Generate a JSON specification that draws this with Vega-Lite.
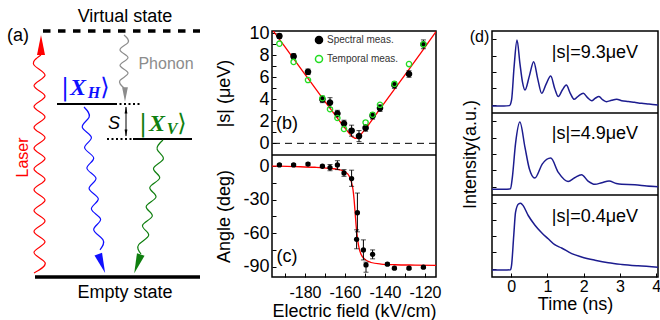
{
"$schema": "https://vega.github.io/schema/vega-lite/v6.json",
"padding": {"left": 0, "top": 8, "right": 0, "bottom": 0},
"background": "white",
"bounds": "flush",
"spacing": 56,
"config": {
  "font": "Liberation Sans",
  "view": {"stroke": "black", "strokeWidth": 1.5},
  "axis": {"domain": false, "grid": false, "tickColor": "black", "tickSize": -4, "tickWidth": 1, "labelPadding": 7, "labelFontSize": 18, "titleFontSize": 18, "titleFontWeight": "normal", "labelColor": "black", "titleColor": "black", "labelOverlap": false, "labelFlush": false},
  "axisY": {"minExtent": 30, "maxExtent": 30, "titlePadding": 9},
  "legend": {"labelFontSize": 10, "symbolSize": 50, "rowPadding": 5, "labelOffset": 3, "symbolStrokeWidth": 1.5, "labelColor": "#333333", "padding": 0}
},
"datasets": {
  "aVirtual": [{"x": 43, "x2": 200, "y": 246}],
  "aEmpty": [{"x": 35, "x2": 200, "y": 0}],
  "aLevels": [{"x": 57, "x2": 115, "y": 173}, {"x": 133, "x2": 192, "y": 138}],
  "aDots": [{"x": 115, "x2": 142, "y": 173}, {"x": 107, "x2": 133, "y": 138}],
  "aGap": [{"x": 126, "y": 141, "y2": 170}],
  "aGapHeads": [{"x": 126, "y": 167, "angle": 0}, {"x": 126, "y": 144, "angle": 180}],
  "aWaves": [
    {"w": "laser", "i": 0, "x": 34, "y": 4}, {"w": "laser", "i": 1, "x": 45, "y": 14.4}, {"w": "laser", "i": 2, "x": 34, "y": 24.8}, {"w": "laser", "i": 3, "x": 45, "y": 35.2}, {"w": "laser", "i": 4, "x": 34, "y": 45.6}, {"w": "laser", "i": 5, "x": 45, "y": 56}, {"w": "laser", "i": 6, "x": 34, "y": 66.4}, {"w": "laser", "i": 7, "x": 45, "y": 76.8}, {"w": "laser", "i": 8, "x": 34, "y": 87.2}, {"w": "laser", "i": 9, "x": 45, "y": 97.6}, {"w": "laser", "i": 10, "x": 34, "y": 108}, {"w": "laser", "i": 11, "x": 45, "y": 118.4}, {"w": "laser", "i": 12, "x": 34, "y": 128.8}, {"w": "laser", "i": 13, "x": 45, "y": 139.2}, {"w": "laser", "i": 14, "x": 34, "y": 149.6}, {"w": "laser", "i": 15, "x": 45, "y": 160}, {"w": "laser", "i": 16, "x": 34, "y": 170.4}, {"w": "laser", "i": 17, "x": 45, "y": 180.8}, {"w": "laser", "i": 18, "x": 34, "y": 191.2}, {"w": "laser", "i": 19, "x": 45, "y": 201.6}, {"w": "laser", "i": 20, "x": 34, "y": 212}, {"w": "laser", "i": 21, "x": 41, "y": 222},
    {"w": "XH", "i": 0, "x": 84, "y": 170}, {"w": "XH", "i": 1, "x": 89.1, "y": 159.8}, {"w": "XH", "i": 2, "x": 82.3, "y": 149.6}, {"w": "XH", "i": 3, "x": 91.4, "y": 139.4}, {"w": "XH", "i": 4, "x": 84.6, "y": 129.2}, {"w": "XH", "i": 5, "x": 93.7, "y": 119}, {"w": "XH", "i": 6, "x": 86.9, "y": 108.8}, {"w": "XH", "i": 7, "x": 96, "y": 98.6}, {"w": "XH", "i": 8, "x": 89.1, "y": 88.4}, {"w": "XH", "i": 9, "x": 98.3, "y": 78.2}, {"w": "XH", "i": 10, "x": 91.4, "y": 68}, {"w": "XH", "i": 11, "x": 100.6, "y": 57.8}, {"w": "XH", "i": 12, "x": 93.7, "y": 47.6}, {"w": "XH", "i": 13, "x": 102.9, "y": 37.4}, {"w": "XH", "i": 14, "x": 100, "y": 27.2},
    {"w": "XV", "i": 0, "x": 163, "y": 137}, {"w": "XV", "i": 1, "x": 157.2, "y": 127.5}, {"w": "XV", "i": 2, "x": 163.3, "y": 118}, {"w": "XV", "i": 3, "x": 153.5, "y": 108.5}, {"w": "XV", "i": 4, "x": 159.7, "y": 99}, {"w": "XV", "i": 5, "x": 149.8, "y": 89.5}, {"w": "XV", "i": 6, "x": 156, "y": 80}, {"w": "XV", "i": 7, "x": 146.2, "y": 70.5}, {"w": "XV", "i": 8, "x": 152.3, "y": 61}, {"w": "XV", "i": 9, "x": 142.5, "y": 51.5}, {"w": "XV", "i": 10, "x": 148.7, "y": 42}, {"w": "XV", "i": 11, "x": 138.8, "y": 32.5}, {"w": "XV", "i": 12, "x": 141, "y": 23},
    {"w": "phonon", "i": 0, "x": 124, "y": 242}, {"w": "phonon", "i": 1, "x": 128, "y": 234.4}, {"w": "phonon", "i": 2, "x": 120, "y": 226.9}, {"w": "phonon", "i": 3, "x": 128, "y": 219.3}, {"w": "phonon", "i": 4, "x": 120, "y": 211.7}, {"w": "phonon", "i": 5, "x": 128, "y": 204.1}, {"w": "phonon", "i": 6, "x": 120, "y": 196.6}, {"w": "phonon", "i": 7, "x": 124, "y": 189}
  ],
  "aHeads": [{"w": "laser", "x": 41, "y": 232, "angle": 0}, {"w": "XH", "x": 101.7, "y": 13.4, "angle": 160}, {"w": "XV", "x": 137.5, "y": 13.1, "angle": 199}],
  "aPhononHead": [{"w": "phonon", "x": 125, "y": 182.5, "angle": 180}],
  "aTexts": [{"t": "Virtual state", "x": 125, "y": 260}, {"t": "Empty state", "x": 125, "y": -15.5}, {"t": "(a)", "x": 18, "y": 241}],
  "aS": [{"t": "S", "x": 114, "y": 153}],
  "aPhononText": [{"t": "Phonon", "x": 166, "y": 213.5}],
  "aLaserText": [{"t": "Laser", "x": 23, "y": 119.5}],
  "aKetUpright": [{"w": "XH", "t": "|", "x": 65, "y": 189}, {"w": "XH", "t": "⟩", "x": 105, "y": 189}, {"w": "XV", "t": "|", "x": 143, "y": 153}, {"w": "XV", "t": "⟩", "x": 182, "y": 153}],
  "aKetX": [{"w": "XH", "t": "X", "x": 78, "y": 189}, {"w": "XV", "t": "X", "x": 157, "y": 153}],
  "aKetSub": [{"w": "XH", "t": "H", "x": 94, "y": 184}, {"w": "XV", "t": "V", "x": 172, "y": 148}],
  "bCurve": [
    {"f": -196.5, "s": 10.38}, {"f": -190, "s": 8.76}, {"f": -180, "s": 6.27}, {"f": -170, "s": 3.8}, {"f": -165, "s": 2.59}, {"f": -160, "s": 1.38}, {"f": -158, "s": 0.93}, {"f": -156.5, "s": 0.63}, {"f": -155.5, "s": 0.51}, {"f": -154.75, "s": 0.45}, {"f": -154, "s": 0.51}, {"f": -153, "s": 0.63}, {"f": -151.5, "s": 0.93}, {"f": -149.5, "s": 1.38}, {"f": -145, "s": 2.5}, {"f": -140, "s": 3.75}, {"f": -130, "s": 6.22}, {"f": -120, "s": 8.75}, {"f": -114.5, "s": 10.15}
  ],
  "bErr": [
    {"f": -192.8, "lo": 9.55, "hi": 9.95}, {"f": -185.7, "lo": 7.65, "hi": 8.15}, {"f": -178.5, "lo": 6.25, "hi": 6.75}, {"f": -171.3, "lo": 3.7, "hi": 4.3}, {"f": -167.5, "lo": 3.25, "hi": 4.15}, {"f": -163.8, "lo": 2.4, "hi": 3.0}, {"f": -160.5, "lo": 1.5, "hi": 2.1}, {"f": -156.7, "lo": 0.65, "hi": 1.65}, {"f": -153, "lo": 0.16, "hi": 1.16}, {"f": -149.7, "lo": 1.1, "hi": 1.7}, {"f": -146.2, "lo": 2.2, "hi": 2.8}, {"f": -142.5, "lo": 2.9, "hi": 3.5}, {"f": -135.3, "lo": 5.0, "hi": 5.6}, {"f": -128, "lo": 6.0, "hi": 6.6}, {"f": -120.8, "lo": 8.6, "hi": 9.4}
  ],
  "bPts": [
    {"f": -192.8, "s": 9.75, "series": "Spectral meas."}, {"f": -185.7, "s": 7.9, "series": "Spectral meas."}, {"f": -178.5, "s": 6.5, "series": "Spectral meas."}, {"f": -171.3, "s": 4.0, "series": "Spectral meas."}, {"f": -167.5, "s": 3.7, "series": "Spectral meas."}, {"f": -163.8, "s": 2.7, "series": "Spectral meas."}, {"f": -160.5, "s": 1.8, "series": "Spectral meas."}, {"f": -156.7, "s": 1.15, "series": "Spectral meas."}, {"f": -153, "s": 0.66, "series": "Spectral meas."}, {"f": -149.7, "s": 1.4, "series": "Spectral meas."}, {"f": -146.2, "s": 2.5, "series": "Spectral meas."}, {"f": -142.5, "s": 3.2, "series": "Spectral meas."}, {"f": -135.3, "s": 5.3, "series": "Spectral meas."}, {"f": -128, "s": 6.3, "series": "Spectral meas."}, {"f": -120.8, "s": 9.0, "series": "Spectral meas."},
    {"f": -192.8, "s": 9.06, "series": "Temporal meas."}, {"f": -185.7, "s": 7.4, "series": "Temporal meas."}, {"f": -178.5, "s": 5.75, "series": "Temporal meas."}, {"f": -171.3, "s": 4.1, "series": "Temporal meas."}, {"f": -167.5, "s": 3.1, "series": "Temporal meas."}, {"f": -163.8, "s": 2.3, "series": "Temporal meas."}, {"f": -160.5, "s": 1.3, "series": "Temporal meas."}, {"f": -149.7, "s": 1.9, "series": "Temporal meas."}, {"f": -146.2, "s": 2.6, "series": "Temporal meas."}, {"f": -142.5, "s": 3.5, "series": "Temporal meas."}, {"f": -135.3, "s": 5.4, "series": "Temporal meas."}, {"f": -128, "s": 7.2, "series": "Temporal meas."}, {"f": -120.8, "s": 9.0, "series": "Temporal meas."}
  ],
  "cCurve": [
    {"f": -196.5, "a": 0.2}, {"f": -185, "a": -0.3}, {"f": -175, "a": -0.9}, {"f": -168, "a": -1.8}, {"f": -163, "a": -3}, {"f": -160, "a": -5}, {"f": -158, "a": -8.5}, {"f": -157, "a": -13}, {"f": -156, "a": -21}, {"f": -155.5, "a": -29}, {"f": -155, "a": -40}, {"f": -154.5, "a": -52}, {"f": -154, "a": -61}, {"f": -153.5, "a": -68}, {"f": -153, "a": -73}, {"f": -152, "a": -79}, {"f": -150, "a": -83.5}, {"f": -147, "a": -86.3}, {"f": -142, "a": -87.7}, {"f": -135, "a": -88.3}, {"f": -125, "a": -88.6}, {"f": -114.5, "a": -88.8}
  ],
  "cPts": [
    {"f": -192.8, "a": 1.2, "lo": 0.2, "hi": 2.2}, {"f": -185.7, "a": 1.2, "lo": 0.2, "hi": 2.2}, {"f": -178.5, "a": 2.0, "lo": 1.0, "hi": 3.0}, {"f": -171.3, "a": 0.0, "lo": -1.0, "hi": 1.0}, {"f": -167.5, "a": -1.2, "lo": -4.0, "hi": 1.6}, {"f": -163.8, "a": 1.2, "lo": -3.0, "hi": 5.0}, {"f": -160.5, "a": -6.0, "lo": -9.0, "hi": -3.0}, {"f": -156.7, "a": -11.0, "lo": -18.0, "hi": -3.5}, {"f": -153.8, "a": -41.7, "lo": -58.8, "hi": -24.0}, {"f": -154.2, "a": -65.5, "lo": -74.0, "hi": -57.0}, {"f": -150.8, "a": -75.0, "lo": -84.0, "hi": -66.0}, {"f": -149.5, "a": -88.5, "lo": -95.0, "hi": -86.0}, {"f": -146.2, "a": -79.0, "lo": -83.0, "hi": -75.0}, {"f": -138.8, "a": -87.8, "lo": -89.0, "hi": -86.6}, {"f": -135.3, "a": -91.4, "lo": -92.4, "hi": -90.4}, {"f": -128, "a": -91.4, "lo": -92.4, "hi": -90.4}, {"f": -120.8, "a": -90.5, "lo": -91.5, "hi": -89.5}
  ],
  "d1": [
    {"t": -0.53, "v": 0.085}, {"t": -0.2, "v": 0.085}, {"t": -0.05, "v": 0.09}, {"t": 0.01, "v": 0.16}, {"t": 0.08, "v": 0.565}, {"t": 0.16, "v": 0.89}, {"t": 0.24, "v": 0.606}, {"t": 0.31, "v": 0.38}, {"t": 0.38, "v": 0.28}, {"t": 0.5, "v": 0.45}, {"t": 0.62, "v": 0.626}, {"t": 0.73, "v": 0.42}, {"t": 0.84, "v": 0.24}, {"t": 0.96, "v": 0.35}, {"t": 1.09, "v": 0.45}, {"t": 1.2, "v": 0.3}, {"t": 1.3, "v": 0.2}, {"t": 1.41, "v": 0.28}, {"t": 1.52, "v": 0.34}, {"t": 1.63, "v": 0.24}, {"t": 1.74, "v": 0.167}, {"t": 1.86, "v": 0.21}, {"t": 1.99, "v": 0.24}, {"t": 2.1, "v": 0.19}, {"t": 2.22, "v": 0.15}, {"t": 2.32, "v": 0.18}, {"t": 2.42, "v": 0.2}, {"t": 2.53, "v": 0.16}, {"t": 2.63, "v": 0.138}, {"t": 2.77, "v": 0.155}, {"t": 2.91, "v": 0.167}, {"t": 3.05, "v": 0.15}, {"t": 3.23, "v": 0.14}, {"t": 3.4, "v": 0.13}, {"t": 3.6, "v": 0.118}, {"t": 3.8, "v": 0.11}, {"t": 4.05, "v": 0.098}
  ],
  "d2": [
    {"t": -0.53, "v": 0.07}, {"t": -0.2, "v": 0.07}, {"t": -0.02, "v": 0.075}, {"t": 0.03, "v": 0.21}, {"t": 0.12, "v": 0.63}, {"t": 0.24, "v": 0.89}, {"t": 0.38, "v": 0.58}, {"t": 0.5, "v": 0.32}, {"t": 0.65, "v": 0.206}, {"t": 0.86, "v": 0.38}, {"t": 1.09, "v": 0.45}, {"t": 1.3, "v": 0.275}, {"t": 1.57, "v": 0.165}, {"t": 1.75, "v": 0.21}, {"t": 1.94, "v": 0.247}, {"t": 2.12, "v": 0.17}, {"t": 2.31, "v": 0.13}, {"t": 2.5, "v": 0.15}, {"t": 2.7, "v": 0.17}, {"t": 2.9, "v": 0.14}, {"t": 3.05, "v": 0.13}, {"t": 3.41, "v": 0.125}, {"t": 3.74, "v": 0.11}, {"t": 4.05, "v": 0.1}
  ],
  "d3": [
    {"t": -0.53, "v": 0.084}, {"t": -0.2, "v": 0.084}, {"t": -0.02, "v": 0.088}, {"t": 0.01, "v": 0.145}, {"t": 0.07, "v": 0.506}, {"t": 0.12, "v": 0.79}, {"t": 0.2, "v": 0.89}, {"t": 0.26, "v": 0.9}, {"t": 0.33, "v": 0.87}, {"t": 0.47, "v": 0.75}, {"t": 0.65, "v": 0.635}, {"t": 0.84, "v": 0.54}, {"t": 1.02, "v": 0.466}, {"t": 1.2, "v": 0.394}, {"t": 1.39, "v": 0.354}, {"t": 1.67, "v": 0.285}, {"t": 1.94, "v": 0.245}, {"t": 2.31, "v": 0.205}, {"t": 2.68, "v": 0.173}, {"t": 3.05, "v": 0.153}, {"t": 3.5, "v": 0.136}, {"t": 4.05, "v": 0.12}
  ],
  "dBounds": [{"b": 1}, {"b": 2}]
},
"hconcat": [
  {
    "width": 216, "height": 246,
    "view": {"stroke": null},
    "encoding": {
      "x": {"field": "x", "type": "quantitative", "scale": {"domain": [0, 216], "nice": false, "zero": false}, "axis": null},
      "y": {"field": "y", "type": "quantitative", "scale": {"domain": [0, 246], "nice": false, "zero": false}, "axis": null}
    },
    "layer": [
      {"data": {"name": "aVirtual"}, "mark": {"type": "rule", "strokeWidth": 3.5, "strokeDash": [7.5, 7.5], "color": "black"}, "encoding": {"x2": {"field": "x2"}}},
      {"data": {"name": "aEmpty"}, "mark": {"type": "rule", "strokeWidth": 3.5, "color": "black"}, "encoding": {"x2": {"field": "x2"}}},
      {"data": {"name": "aLevels"}, "mark": {"type": "rule", "strokeWidth": 2, "color": "black"}, "encoding": {"x2": {"field": "x2"}}},
      {"data": {"name": "aDots"}, "mark": {"type": "rule", "strokeWidth": 2, "strokeDash": [2, 2.5], "color": "black"}, "encoding": {"x2": {"field": "x2"}}},
      {"data": {"name": "aGap"}, "mark": {"type": "rule", "strokeWidth": 1, "color": "black"}, "encoding": {"y2": {"field": "y2"}}},
      {"data": {"name": "aGapHeads"}, "mark": {"type": "point", "shape": "M0,-1L0.4,1L-0.4,1Z", "filled": true, "size": 49, "opacity": 1, "color": "black"}, "encoding": {"angle": {"field": "angle", "type": "quantitative", "scale": null}}},
      {"data": {"name": "aWaves"}, "mark": {"type": "line", "interpolate": "natural", "strokeWidth": 1.2}, "encoding": {"color": {"field": "w", "type": "nominal", "scale": {"domain": ["laser", "XH", "XV", "phonon"], "range": ["#ff0000", "#1010ff", "#0f7f0f", "#8c8c8c"]}, "legend": null}, "order": {"field": "i", "type": "quantitative"}}},
      {"data": {"name": "aHeads"}, "mark": {"type": "point", "shape": "M0,-1L0.4,1L-0.4,1Z", "filled": true, "size": 400, "opacity": 1}, "encoding": {"color": {"field": "w", "type": "nominal", "scale": {"domain": ["laser", "XH", "XV", "phonon"], "range": ["#ff0000", "#1010ff", "#0f7f0f", "#8c8c8c"]}, "legend": null}, "angle": {"field": "angle", "type": "quantitative", "scale": null}}},
      {"data": {"name": "aPhononHead"}, "mark": {"type": "point", "shape": "M0,-1L0.4,1L-0.4,1Z", "filled": true, "size": 210, "opacity": 1}, "encoding": {"color": {"field": "w", "type": "nominal", "scale": {"domain": ["laser", "XH", "XV", "phonon"], "range": ["#ff0000", "#1010ff", "#0f7f0f", "#8c8c8c"]}, "legend": null}, "angle": {"field": "angle", "type": "quantitative", "scale": null}}},
      {"data": {"name": "aTexts"}, "mark": {"type": "text", "fontSize": 18, "color": "black"}, "encoding": {"text": {"field": "t"}}},
      {"data": {"name": "aS"}, "mark": {"type": "text", "fontSize": 18, "fontStyle": "italic", "color": "black"}, "encoding": {"text": {"field": "t"}}},
      {"data": {"name": "aPhononText"}, "mark": {"type": "text", "fontSize": 16, "color": "#8c8c8c"}, "encoding": {"text": {"field": "t"}}},
      {"data": {"name": "aLaserText"}, "mark": {"type": "text", "fontSize": 16, "color": "#ff0000", "angle": 270}, "encoding": {"text": {"field": "t"}}},
      {"data": {"name": "aKetUpright"}, "mark": {"type": "text", "fontSize": 24, "font": "DejaVu Serif"}, "encoding": {"text": {"field": "t"}, "color": {"field": "w", "type": "nominal", "scale": {"domain": ["laser", "XH", "XV", "phonon"], "range": ["#ff0000", "#1010ff", "#0f7f0f", "#8c8c8c"]}, "legend": null}}},
      {"data": {"name": "aKetX"}, "mark": {"type": "text", "fontSize": 24, "font": "Liberation Serif", "fontStyle": "italic", "fontWeight": "bold"}, "encoding": {"text": {"field": "t"}, "color": {"field": "w", "type": "nominal", "scale": {"domain": ["laser", "XH", "XV", "phonon"], "range": ["#ff0000", "#1010ff", "#0f7f0f", "#8c8c8c"]}, "legend": null}}},
      {"data": {"name": "aKetSub"}, "mark": {"type": "text", "fontSize": 16, "font": "Liberation Serif", "fontStyle": "italic", "fontWeight": "bold"}, "encoding": {"text": {"field": "t"}, "color": {"field": "w", "type": "nominal", "scale": {"domain": ["laser", "XH", "XV", "phonon"], "range": ["#ff0000", "#1010ff", "#0f7f0f", "#8c8c8c"]}, "legend": null}}}
    ]
  },
  {
    "width": 164, "height": 246,
    "resolve": {"scale": {"y": "independent"}, "axis": {"y": "independent"}},
    "layer": [
      {
        "layer": [
          {"data": {"values": [{}]}, "mark": {"type": "rule", "strokeDash": [7, 5], "strokeWidth": 1, "color": "black"}, "encoding": {"y": {"datum": 0, "type": "quantitative", "scale": {"domain": [-12.15, 10.21], "nice": false, "zero": false}, "axis": {"orient": "left", "title": "|s| (μeV)", "titleY": 62, "values": [0, 1, 2, 3, 4, 5, 6, 7, 8, 9, 10], "labelExpr": "datum.value % 2 == 0 ? '' + datum.value : ''"}}}},
          {"data": {"name": "bCurve"}, "mark": {"type": "line", "color": "#ff0000", "strokeWidth": 1.3, "clip": true, "interpolate": "monotone"}, "encoding": {
            "x": {"field": "f", "type": "quantitative", "scale": {"domain": [-196.5, -114.5], "nice": false, "zero": false}, "axis": {"title": "Electric field (kV/cm)", "values": [-190, -180, -170, -160, -150, -140, -130, -120], "labelExpr": "datum.value % 20 == 0 ? '' + datum.value : ''", "labelPadding": 11, "labelFontSize": 16, "minExtent": 24, "maxExtent": 24, "titlePadding": 1}},
            "y": {"field": "s", "type": "quantitative", "scale": {"domain": [-12.15, 10.21], "nice": false, "zero": false}, "axis": {"orient": "left", "title": "|s| (μeV)", "titleY": 62, "values": [0, 1, 2, 3, 4, 5, 6, 7, 8, 9, 10], "labelExpr": "datum.value % 2 == 0 ? '' + datum.value : ''"}}}},
          {"data": {"name": "bErr"}, "mark": {"type": "errorbar", "ticks": {"size": 5}, "color": "black"}, "encoding": {
            "x": {"field": "f", "type": "quantitative", "scale": {"domain": [-196.5, -114.5], "nice": false, "zero": false}, "axis": {"title": "Electric field (kV/cm)", "values": [-190, -180, -170, -160, -150, -140, -130, -120], "labelExpr": "datum.value % 20 == 0 ? '' + datum.value : ''", "labelPadding": 11, "labelFontSize": 16, "minExtent": 24, "maxExtent": 24, "titlePadding": 1}},
            "y": {"field": "lo", "type": "quantitative", "scale": {"domain": [-12.15, 10.21], "nice": false, "zero": false}, "axis": {"orient": "left", "title": "|s| (μeV)", "titleY": 62, "values": [0, 1, 2, 3, 4, 5, 6, 7, 8, 9, 10], "labelExpr": "datum.value % 2 == 0 ? '' + datum.value : ''"}},
            "y2": {"field": "hi"}}},
          {"data": {"name": "bPts"}, "mark": {"type": "point", "filled": true, "size": 28, "opacity": 1, "strokeWidth": 1.3}, "encoding": {
            "x": {"field": "f", "type": "quantitative", "scale": {"domain": [-196.5, -114.5], "nice": false, "zero": false}, "axis": {"title": "Electric field (kV/cm)", "values": [-190, -180, -170, -160, -150, -140, -130, -120], "labelExpr": "datum.value % 20 == 0 ? '' + datum.value : ''", "labelPadding": 11, "labelFontSize": 16, "minExtent": 24, "maxExtent": 24, "titlePadding": 1}},
            "y": {"field": "s", "type": "quantitative", "scale": {"domain": [-12.15, 10.21], "nice": false, "zero": false}, "axis": {"orient": "left", "title": "|s| (μeV)", "titleY": 62, "values": [0, 1, 2, 3, 4, 5, 6, 7, 8, 9, 10], "labelExpr": "datum.value % 2 == 0 ? '' + datum.value : ''"}},
            "fill": {"field": "series", "type": "nominal", "scale": {"domain": ["Spectral meas.", "Temporal meas."], "range": ["black", "transparent"]}, "legend": {"title": null, "orient": "none", "legendX": 314, "legendY": 4}},
            "stroke": {"field": "series", "type": "nominal", "scale": {"domain": ["Spectral meas.", "Temporal meas."], "range": ["black", "#22dd22"]}, "legend": {"title": null, "orient": "none", "legendX": 314, "legendY": 4}}}},
          {"data": {"values": [{"label": "(b)"}]}, "mark": {"type": "text", "fontSize": 18}, "encoding": {
            "x": {"datum": -189, "type": "quantitative", "scale": {"domain": [-196.5, -114.5], "nice": false, "zero": false}, "axis": {"title": "Electric field (kV/cm)", "values": [-190, -180, -170, -160, -150, -140, -130, -120], "labelExpr": "datum.value % 20 == 0 ? '' + datum.value : ''", "labelPadding": 11, "labelFontSize": 16, "minExtent": 24, "maxExtent": 24, "titlePadding": 1}},
            "y": {"datum": 1.8, "type": "quantitative", "scale": {"domain": [-12.15, 10.21], "nice": false, "zero": false}, "axis": {"orient": "left", "title": "|s| (μeV)", "titleY": 62, "values": [0, 1, 2, 3, 4, 5, 6, 7, 8, 9, 10], "labelExpr": "datum.value % 2 == 0 ? '' + datum.value : ''"}},
            "text": {"field": "label"}}}
        ]
      },
      {
        "layer": [
          {"data": {"values": [{}]}, "mark": {"type": "rule", "strokeWidth": 1.5, "color": "black"}, "encoding": {"y": {"datum": 10.1, "type": "quantitative", "scale": {"domain": [-99.3, 121.3], "nice": false, "zero": false}, "axis": {"orient": "left", "title": "Angle (deg)", "titleY": 185, "values": [-90, -75, -60, -45, -30, -15, 0], "labelExpr": "datum.value % 30 == 0 ? '' + datum.value : ''"}}}},
          {"data": {"name": "cCurve"}, "mark": {"type": "line", "color": "#ff0000", "strokeWidth": 1.3, "clip": true, "interpolate": "monotone"}, "encoding": {
            "x": {"field": "f", "type": "quantitative", "scale": {"domain": [-196.5, -114.5], "nice": false, "zero": false}, "axis": {"title": "Electric field (kV/cm)", "values": [-190, -180, -170, -160, -150, -140, -130, -120], "labelExpr": "datum.value % 20 == 0 ? '' + datum.value : ''", "labelPadding": 11, "labelFontSize": 16, "minExtent": 24, "maxExtent": 24, "titlePadding": 1}},
            "y": {"field": "a", "type": "quantitative", "scale": {"domain": [-99.3, 121.3], "nice": false, "zero": false}, "axis": {"orient": "left", "title": "Angle (deg)", "titleY": 185, "values": [-90, -75, -60, -45, -30, -15, 0], "labelExpr": "datum.value % 30 == 0 ? '' + datum.value : ''"}}}},
          {"data": {"name": "cPts"}, "mark": {"type": "errorbar", "ticks": {"size": 5}, "color": "black"}, "encoding": {
            "x": {"field": "f", "type": "quantitative", "scale": {"domain": [-196.5, -114.5], "nice": false, "zero": false}, "axis": {"title": "Electric field (kV/cm)", "values": [-190, -180, -170, -160, -150, -140, -130, -120], "labelExpr": "datum.value % 20 == 0 ? '' + datum.value : ''", "labelPadding": 11, "labelFontSize": 16, "minExtent": 24, "maxExtent": 24, "titlePadding": 1}},
            "y": {"field": "lo", "type": "quantitative", "scale": {"domain": [-99.3, 121.3], "nice": false, "zero": false}, "axis": {"orient": "left", "title": "Angle (deg)", "titleY": 185, "values": [-90, -75, -60, -45, -30, -15, 0], "labelExpr": "datum.value % 30 == 0 ? '' + datum.value : ''"}},
            "y2": {"field": "hi"}}},
          {"data": {"name": "cPts"}, "mark": {"type": "point", "filled": true, "size": 28, "opacity": 1, "color": "black"}, "encoding": {
            "x": {"field": "f", "type": "quantitative", "scale": {"domain": [-196.5, -114.5], "nice": false, "zero": false}, "axis": {"title": "Electric field (kV/cm)", "values": [-190, -180, -170, -160, -150, -140, -130, -120], "labelExpr": "datum.value % 20 == 0 ? '' + datum.value : ''", "labelPadding": 11, "labelFontSize": 16, "minExtent": 24, "maxExtent": 24, "titlePadding": 1}},
            "y": {"field": "a", "type": "quantitative", "scale": {"domain": [-99.3, 121.3], "nice": false, "zero": false}, "axis": {"orient": "left", "title": "Angle (deg)", "titleY": 185, "values": [-90, -75, -60, -45, -30, -15, 0], "labelExpr": "datum.value % 30 == 0 ? '' + datum.value : ''"}}}},
          {"data": {"values": [{"label": "(c)"}]}, "mark": {"type": "text", "fontSize": 18}, "encoding": {
            "x": {"datum": -189, "type": "quantitative", "scale": {"domain": [-196.5, -114.5], "nice": false, "zero": false}, "axis": {"title": "Electric field (kV/cm)", "values": [-190, -180, -170, -160, -150, -140, -130, -120], "labelExpr": "datum.value % 20 == 0 ? '' + datum.value : ''", "labelPadding": 11, "labelFontSize": 16, "minExtent": 24, "maxExtent": 24, "titlePadding": 1}},
            "y": {"datum": -81, "type": "quantitative", "scale": {"domain": [-99.3, 121.3], "nice": false, "zero": false}, "axis": {"orient": "left", "title": "Angle (deg)", "titleY": 185, "values": [-90, -75, -60, -45, -30, -15, 0], "labelExpr": "datum.value % 30 == 0 ? '' + datum.value : ''"}},
            "text": {"field": "label"}}}
        ]
      }
    ]
  },
  {
    "width": 166, "height": 246,
    "resolve": {"scale": {"y": "independent"}, "axis": {"y": "independent"}},
    "layer": [
      {
        "layer": [
          {"data": {"name": "d1"}, "mark": {"type": "line", "color": "#1c1c8f", "strokeWidth": 1.5, "interpolate": "monotone", "clip": true}, "encoding": {
            "x": {"field": "t", "type": "quantitative", "scale": {"domain": [-0.53, 4.05], "nice": false, "zero": false}, "axis": {"title": "Time (ns)", "values": [0, 1, 2, 3, 4], "labelPadding": 5, "labelFontSize": 16, "minExtent": 18, "maxExtent": 18, "titlePadding": 0.5}},
            "y": {"field": "v", "type": "quantitative", "scale": {"domain": [-2, 1], "nice": false, "zero": false}, "axis": {"orient": "left", "title": null, "labels": false, "values": [0.1, 0.3, 0.5, 0.7, 0.9], "minExtent": 0, "maxExtent": 0}}}},
          {"data": {"values": [{"label": "|s|=9.3μeV"}]}, "mark": {"type": "text", "fontSize": 18}, "encoding": {
            "x": {"datum": 2.31, "type": "quantitative", "scale": {"domain": [-0.53, 4.05], "nice": false, "zero": false}, "axis": {"title": "Time (ns)", "values": [0, 1, 2, 3, 4], "labelPadding": 5, "labelFontSize": 16, "minExtent": 18, "maxExtent": 18, "titlePadding": 0.5}},
            "y": {"datum": 0.73, "type": "quantitative", "scale": {"domain": [-2, 1], "nice": false, "zero": false}, "axis": {"orient": "left", "title": null, "labels": false, "values": [0.1, 0.3, 0.5, 0.7, 0.9], "minExtent": 0, "maxExtent": 0}},
            "text": {"field": "label"}}},
          {"data": {"values": [{"label": "(d)"}]}, "mark": {"type": "text", "fontSize": 16}, "encoding": {
            "x": {"datum": -0.875, "type": "quantitative", "scale": {"domain": [-0.53, 4.05], "nice": false, "zero": false}, "axis": {"title": "Time (ns)", "values": [0, 1, 2, 3, 4], "labelPadding": 5, "labelFontSize": 16, "minExtent": 18, "maxExtent": 18, "titlePadding": 0.5}},
            "y": {"datum": 0.93, "type": "quantitative", "scale": {"domain": [-2, 1], "nice": false, "zero": false}, "axis": {"orient": "left", "title": null, "labels": false, "values": [0.1, 0.3, 0.5, 0.7, 0.9], "minExtent": 0, "maxExtent": 0}},
            "text": {"field": "label"}}}
        ]
      },
      {
        "layer": [
          {"data": {"name": "d2"}, "mark": {"type": "line", "color": "#1c1c8f", "strokeWidth": 1.5, "interpolate": "monotone", "clip": true}, "encoding": {
            "x": {"field": "t", "type": "quantitative", "scale": {"domain": [-0.53, 4.05], "nice": false, "zero": false}, "axis": {"title": "Time (ns)", "values": [0, 1, 2, 3, 4], "labelPadding": 5, "labelFontSize": 16, "minExtent": 18, "maxExtent": 18, "titlePadding": 0.5}},
            "y": {"field": "v", "type": "quantitative", "scale": {"domain": [-1, 2], "nice": false, "zero": false}, "axis": {"orient": "left", "title": "Intensity(a.u.)", "labels": false, "values": [0.1, 0.3, 0.5, 0.7, 0.9], "minExtent": 0, "maxExtent": 0, "titlePadding": 13}}}},
          {"data": {"values": [{"label": "|s|=4.9μeV"}]}, "mark": {"type": "text", "fontSize": 18}, "encoding": {
            "x": {"datum": 2.31, "type": "quantitative", "scale": {"domain": [-0.53, 4.05], "nice": false, "zero": false}, "axis": {"title": "Time (ns)", "values": [0, 1, 2, 3, 4], "labelPadding": 5, "labelFontSize": 16, "minExtent": 18, "maxExtent": 18, "titlePadding": 0.5}},
            "y": {"datum": 0.75, "type": "quantitative", "scale": {"domain": [-1, 2], "nice": false, "zero": false}, "axis": {"orient": "left", "title": "Intensity(a.u.)", "labels": false, "values": [0.1, 0.3, 0.5, 0.7, 0.9], "minExtent": 0, "maxExtent": 0, "titlePadding": 13}},
            "text": {"field": "label"}}}
        ]
      },
      {
        "layer": [
          {"data": {"name": "d3"}, "mark": {"type": "line", "color": "#1c1c8f", "strokeWidth": 1.5, "interpolate": "monotone", "clip": true}, "encoding": {
            "x": {"field": "t", "type": "quantitative", "scale": {"domain": [-0.53, 4.05], "nice": false, "zero": false}, "axis": {"title": "Time (ns)", "values": [0, 1, 2, 3, 4], "labelPadding": 5, "labelFontSize": 16, "minExtent": 18, "maxExtent": 18, "titlePadding": 0.5}},
            "y": {"field": "v", "type": "quantitative", "scale": {"domain": [0, 3], "nice": false, "zero": false}, "axis": {"orient": "left", "title": null, "labels": false, "values": [0.1, 0.3, 0.5, 0.7, 0.9], "minExtent": 0, "maxExtent": 0}}}},
          {"data": {"values": [{"label": "|s|=0.4μeV"}]}, "mark": {"type": "text", "fontSize": 18}, "encoding": {
            "x": {"datum": 2.31, "type": "quantitative", "scale": {"domain": [-0.53, 4.05], "nice": false, "zero": false}, "axis": {"title": "Time (ns)", "values": [0, 1, 2, 3, 4], "labelPadding": 5, "labelFontSize": 16, "minExtent": 18, "maxExtent": 18, "titlePadding": 0.5}},
            "y": {"datum": 0.726, "type": "quantitative", "scale": {"domain": [0, 3], "nice": false, "zero": false}, "axis": {"orient": "left", "title": null, "labels": false, "values": [0.1, 0.3, 0.5, 0.7, 0.9], "minExtent": 0, "maxExtent": 0}},
            "text": {"field": "label"}}},
          {"data": {"name": "dBounds"}, "mark": {"type": "rule", "strokeWidth": 1.5, "color": "black"}, "encoding": {
            "y": {"field": "b", "type": "quantitative", "scale": {"domain": [0, 3], "nice": false, "zero": false}, "axis": {"orient": "left", "title": null, "labels": false, "values": [0.1, 0.3, 0.5, 0.7, 0.9], "minExtent": 0, "maxExtent": 0}}}}
        ]
      }
    ]
  }
]
}
